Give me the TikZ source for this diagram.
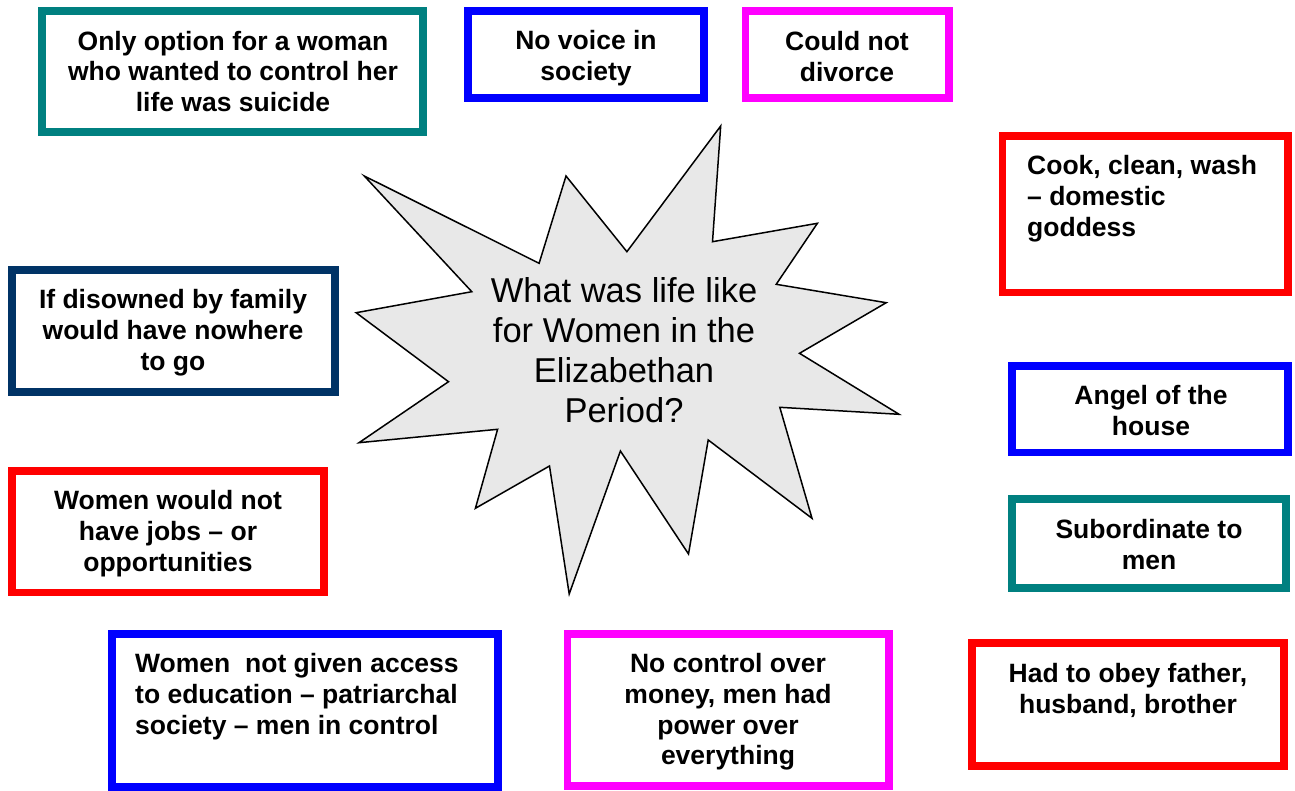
\documentclass[tikz,border=0pt]{standalone}
\usepackage{fontspec}
\setmainfont{Liberation Sans}
\definecolor{cteal}{HTML}{008080}
\definecolor{cblue}{HTML}{0000FF}
\definecolor{cmag}{HTML}{FF00FF}
\definecolor{cred}{HTML}{FF0000}
\definecolor{cnavy}{HTML}{003366}
\definecolor{starfill}{HTML}{E8E8E8}
\begin{document}
\begin{tikzpicture}[x=1pt,y=-1pt,
  frame/.style={line width=7.5pt},
  boxtext/.style={inner sep=0pt,align=center,font=\fontsize{26.5}{30.8}\selectfont\bfseries},
  boxtextl/.style={inner sep=0pt,align=left,anchor=west,font=\fontsize{26.5}{30.8}\selectfont\bfseries},
  starshape/.style={draw=black,line width=1.5pt,fill=starfill,line join=miter},
  startext/.style={inner sep=0pt,align=center,font=\fontsize{34.5}{40}\selectfont}]
\useasboundingbox (0,0) rectangle (1295,791);
% starburst
\draw[starshape] (364.3,176) -- (539.1,263.3) -- (566,176) -- (626.9,251.7) -- (720.7,126)
  -- (712.5,241.7) -- (817.4,223.3) -- (776.2,284.3) -- (886.2,302.7) -- (799.5,353.3)
  -- (899.1,414.3) -- (779.8,407.3) -- (812,518.3) -- (708.2,440) -- (688.5,554)
  -- (620.4,451) -- (569.2,594) -- (549.5,466) -- (475.4,508.3) -- (497.6,429.3)
  -- (359,442.7) -- (448.5,381.7) -- (356.1,312.7) -- (471.8,291.7) -- cycle;
\node[startext] (q) at (624,350) {What was life like\\for Women in the\\Elizabethan\\Period?};
% boxes
\draw[frame,cteal] (42,11) rectangle (423,132);
\node[boxtext] (b1) at (233,71.5) {Only option for a woman\\who wanted to control her\\life was suicide};
\draw[frame,cblue] (468,11) rectangle (704,98);
\node[boxtext] (b2) at (586,58) {No voice in\\society};
\draw[frame,cmag] (745.5,11) rectangle (949,98);
\node[boxtext] (b3) at (847,56.5) {Could not\\divorce};
\draw[frame,cred] (1002.5,136) rectangle (1288,292.5);
\node[boxtextl] (b4) at (1027,198.5) {Cook, clean, wash\\– domestic\\goddess};
\draw[frame,cnavy] (12,270) rectangle (335,392);
\node[boxtext] (b5) at (173,333) {If disowned by family\\would have nowhere\\to go};
\draw[frame,cblue] (1012,366) rectangle (1288,452.5);
\node[boxtext] (b6) at (1151,410.5) {Angel of the\\house};
\draw[frame,cred] (12,471) rectangle (324,592.5);
\node[boxtext] (b7) at (168,533.5) {Women would not\\have jobs – or\\opportunities};
\draw[frame,cteal] (1012,499) rectangle (1286,588);
\node[boxtext] (b8) at (1149,544.5) {Subordinate to\\men};
\draw[frame,cblue] (112,634) rectangle (498,787);
\node[boxtextl] (b9) at (135,696.5) {Women\ \ not given access\\to education – patriarchal\\society – men in control};
\draw[frame,cmag] (567.5,634) rectangle (889,786);
\node[boxtext] (b10) at (728,712) {No control over\\money, men had\\power over\\everything};
\draw[frame,cred] (972,643) rectangle (1284,766);
\node[boxtext] (b11) at (1128,690.5) {Had to obey father,\\husband, brother};
\end{tikzpicture}
\end{document}
